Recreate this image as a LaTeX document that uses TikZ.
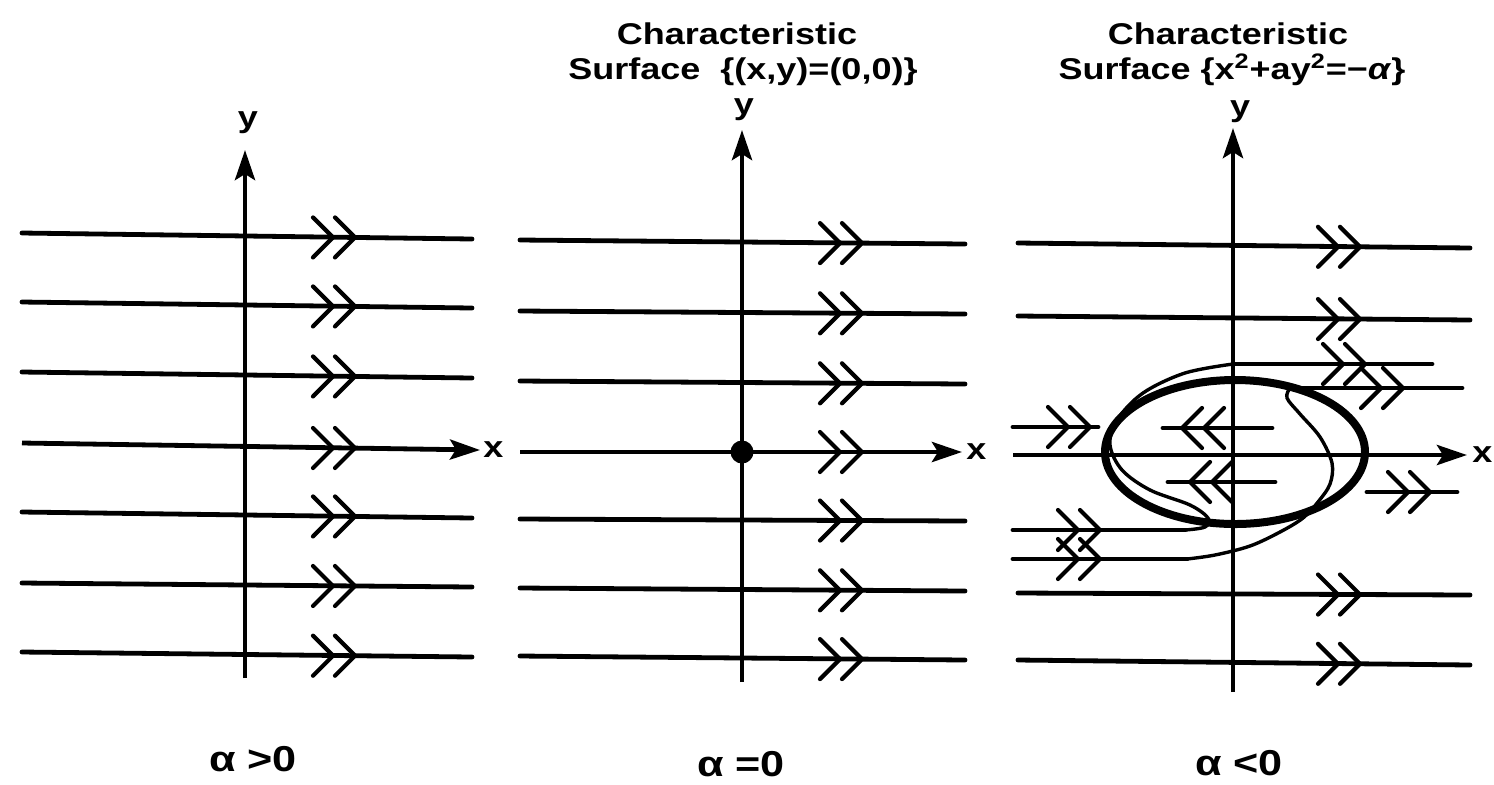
\documentclass[tikz,border=0pt]{standalone}
\usepackage{fontspec}
\setmainfont{Liberation Sans}
\newfontfamily\lblfont[FakeStretch=1.2]{Liberation Sans}
\usetikzlibrary{arrows.meta}

\tikzset{
  flow/.style={line width=2.4pt,line cap=round},
  thinflow/.style={line width=1.7pt,line cap=round},
  axis/.style={line width=2.4pt,-{Stealth[length=15pt,width=10pt,inset=3pt]}},
  surf/.style={line width=4pt},
  chev/.style={line width=2.1pt,line cap=round},
  lbl/.style={font=\lblfont\fontsize{15}{17}\selectfont\bfseries,inner sep=0pt,anchor=base},
  albl/.style={font=\lblfont\fontsize{18}{20}\selectfont\bfseries,inner sep=0pt,anchor=base},
  pics/fwd/.style={code={\draw[chev] (-20,-20) -- (0,0) -- (-20,20) (-42,-20) -- (-22,0) -- (-42,20);}},
  pics/bwd/.style={code={\draw[chev] (20,-20) -- (0,0) -- (20,20) (42,-20) -- (22,0) -- (42,20);}},
}

\begin{document}
\begin{tikzpicture}[x=0.5pt,y=-0.5pt]
  \useasboundingbox (0,0) rectangle (1494,784);

  % alpha > 0 : straight flow everywhere
  \foreach \ya/\yb in {233/239, 302/308, 372/378, 512/518, 583/587, 652/657} {
    \draw[flow] (22,\ya) -- (472,\yb);
    \pic at (355,{\ya+0.74*(\yb-\ya)}) {fwd};
  }
  \coordinate (x1a) at (22,443);
  \coordinate (x1b) at (480,450);
  \coordinate (y1a) at (245,678);
  \coordinate (y1b) at (245,150);
  \draw[axis] (x1a) -- (x1b);
  \draw[axis] (y1a) -- (y1b);
  \pic at (355,448) {fwd};
  \node[lbl,anchor=west] (xl1) at (483,450) {x};
  \node[lbl] (yl1) at (248,127) {y};
  \node[albl] (al1) at (253,771) {α >0};

  % alpha = 0 : one singular point
  \foreach \ya/\yb in {240/244, 311/314, 381/384, 519/521, 588/591, 656/660} {
    \draw[flow] (520,\ya) -- (965,\yb);
    \pic at (862,{\ya+0.77*(\yb-\ya)}) {fwd};
  }
  \coordinate (x2a) at (520,452);
  \coordinate (x2b) at (962,452);
  \coordinate (y2a) at (742,682);
  \coordinate (y2b) at (742,130);
  \draw[axis] (x2a) -- (x2b);
  \draw[axis] (y2a) -- (y2b);
  \pic at (862,452) {fwd};
  \fill (742,452) circle (11.5);
  \node[lbl,anchor=west] (xl2) at (966,452) {x};
  \node[lbl] (yl2) at (744,114) {y};
  \node[albl] (al2) at (741,776) {α =0};
  \node[lbl] (tt2) at (737,44) {Characteristic};
  \node[lbl] (ts2) at (743,79) {Surface\ \ \{(x,y)=(0,0)\}};

  % alpha < 0 : closed characteristic surface
  \foreach \ya/\yb in {243/248, 316/320, 593/595, 660/665} {
    \draw[flow] (1018,\ya) -- (1470,\yb);
    \pic at (1360,{\ya+0.76*(\yb-\ya)}) {fwd};
  }
  \coordinate (x3a) at (1013,455);
  \coordinate (x3b) at (1467,455);
  \coordinate (y3a) at (1233,692);
  \coordinate (y3b) at (1233,128);
  \draw[axis] (x3a) -- (x3b);
  \draw[axis] (y3a) -- (y3b);
  \draw[surf] (1235,452) ellipse [x radius=130, y radius=72];
  % streamlines bent round the surface
  \draw[flow] (1013,530) -- (1185,530);
  \draw[thinflow] plot[smooth,tension=0.55] coordinates {(1185,530) (1205,527) (1208,518) (1190,505) (1150,490) (1122,470) (1110,445) (1117,420) (1143,393) (1185,373) (1233,364)};
  \draw[flow] (1233,364) -- (1432,364);
  \draw[flow] (1462,388) -- (1290,388);
  \draw[thinflow] plot[smooth,tension=0.55] coordinates {(1290,388) (1287,398) (1300,414) (1320,437) (1332,463) (1330,484) (1318,502) (1303,518) (1280,532) (1250,546) (1215,555) (1187,559)};
  \draw[flow] (1187,559) -- (1013,559);
  \draw[flow] (1013,427) -- (1098,427);
  \draw[flow] (1163,428) -- (1272,428);
  \draw[flow] (1168,482) -- (1275,482);
  \draw[flow] (1367,492) -- (1457,492);
  \pic at (1090,427) {fwd};
  \pic at (1100,530) {fwd};
  \pic at (1100,559) {fwd};
  \pic at (1365,364) {fwd};
  \pic at (1403,388) {fwd};
  \pic at (1430,492) {fwd};
  \pic at (1182,428) {bwd};
  \pic at (1190,482) {bwd};
  \node[lbl,anchor=west] (xl3) at (1472,455) {x};
  \node[lbl] (yl3) at (1240,116) {y};
  \node[albl] (al3) at (1239,775) {α <0};
  \node[lbl] (tt3) at (1228,44) {Characteristic};
  \node[lbl] (ts3) at (1232,79) {Surface \{x\textsuperscript{2}+ay\textsuperscript{2}=−\textit{α}\}};
\end{tikzpicture}
\end{document}
